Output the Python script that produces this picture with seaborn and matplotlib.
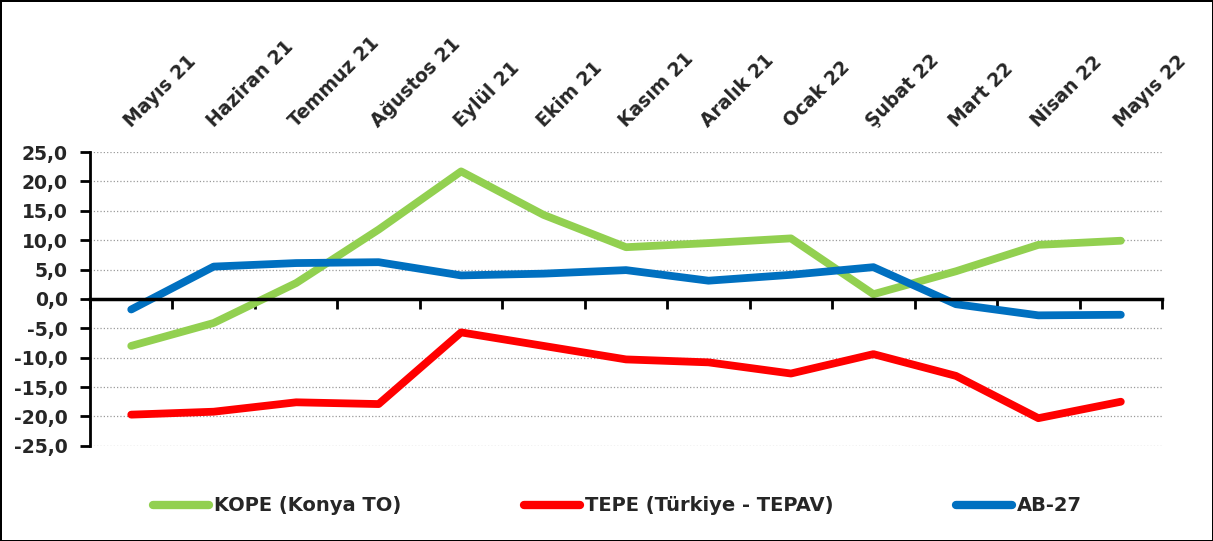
import matplotlib.pyplot as plt
import numpy as np
import pandas as pd
import seaborn as sns
from matplotlib.ticker import FuncFormatter, MultipleLocator
from matplotlib.transforms import ScaledTranslation, blended_transform_factory

months = [
    "Mayıs 21", "Haziran 21", "Temmuz 21", "Ağustos 21", "Eylül 21", "Ekim 21",
    "Kasım 21", "Aralık 21", "Ocak 22", "Şubat 22", "Mart 22", "Nisan 22", "Mayıs 22",
]
kope = [-8.0, -4.1, 2.7, 11.8, 21.7, 14.3, 8.8, 9.5, 10.3, 0.8, 4.7, 9.2, 9.9]
tepe = [-19.7, -19.2, -17.6, -17.9, -5.7, -8.0, -10.3, -10.8, -12.7, -9.4, -13.1, -20.3, -17.5]
ab27 = [-1.8, 5.5, 6.1, 6.25, 4.0, 4.3, 4.9, 3.1, 4.1, 5.4, -0.9, -2.8, -2.7]

series_names = ["KOPE (Konya TO)", "TEPE (Türkiye - TEPAV)", "AB-27"]
series_colors = ["#92D050", "#FF0000", "#0070C0"]

sns.set_theme(style="white")
plt.rcParams["font.family"] = ["DejaVu Sans"]
plt.rcParams["font.weight"] = "bold"

df = pd.DataFrame(
    {
        "pos": list(range(len(months))) * 3,
        "value": kope + tepe + ab27,
        "series": np.repeat(series_names, len(months)),
    }
)

fig = plt.figure(figsize=(12.13, 5.41), dpi=100, linewidth=2, edgecolor="black")
ax = fig.add_axes([0.0742, 0.176, 0.8838, 0.543])

sns.lineplot(
    data=df, x="pos", y="value", hue="series", hue_order=series_names,
    palette=series_colors, linewidth=5.6, ax=ax, legend=True,
)
for line in ax.get_lines():
    line.set_solid_capstyle("round")
    line.set_solid_joinstyle("round")

ax.set_xlim(-0.5, len(months) - 0.5)
ax.set_ylim(-25, 25)
ax.yaxis.set_major_locator(MultipleLocator(5))
ax.yaxis.set_major_formatter(FuncFormatter(lambda v, _: f"{v:.1f}".replace(".", ",")))
ax.grid(axis="y", linestyle=":", color="#9a9a9a", linewidth=0.9)
ax.grid(axis="x", visible=False)
ax.set_axisbelow(True)

# category boundaries get the small ticks on the zero line, month names go on top
ax.set_xticks(np.arange(-0.5, len(months)), minor=True)
ax.set_xticks(range(len(months)))
ax.tick_params(axis="x", which="major", bottom=False, top=False, length=0,
               labelbottom=False, labeltop=False)
ax.tick_params(axis="x", which="minor", bottom=True, top=False, direction="out",
               length=7, width=2, color="black")

top_trans = blended_transform_factory(ax.transData, ax.transAxes) + ScaledTranslation(
    0, 0.24, fig.dpi_scale_trans
)
for i, name in enumerate(months):
    ax.text(i, 1, name, transform=top_trans, rotation=45, ha="left", va="baseline",
            rotation_mode="anchor", fontsize=13.5, fontweight="bold", clip_on=False)

ax.tick_params(axis="y", which="major", left=True, direction="out", length=7, width=2,
               color="black", labelsize=13.5, pad=9)
for lab in ax.get_yticklabels():
    lab.set_fontweight("bold")

for side in ["top", "right"]:
    ax.spines[side].set_visible(False)
ax.spines["left"].set_color("black")
ax.spines["left"].set_linewidth(2)
ax.spines["bottom"].set_position(("data", 0))
ax.spines["bottom"].set_color("black")
ax.spines["bottom"].set_linewidth(2.5)
ax.set_xlabel("")
ax.set_ylabel("")

handles, labels = ax.get_legend_handles_labels()
ax.legend_.remove()
leg = fig.legend(
    handles, labels, loc="center", bbox_to_anchor=(0.509, 0.065), ncol=3,
    frameon=False, handlelength=2.9, handletextpad=0.25, columnspacing=6.3,
    prop={"weight": "bold", "size": 14},
)
for h in leg.legend_handles:
    h.set_linewidth(6)
    h.set_solid_capstyle("round")

fig.savefig("out.png", dpi=100, edgecolor=fig.get_edgecolor())
